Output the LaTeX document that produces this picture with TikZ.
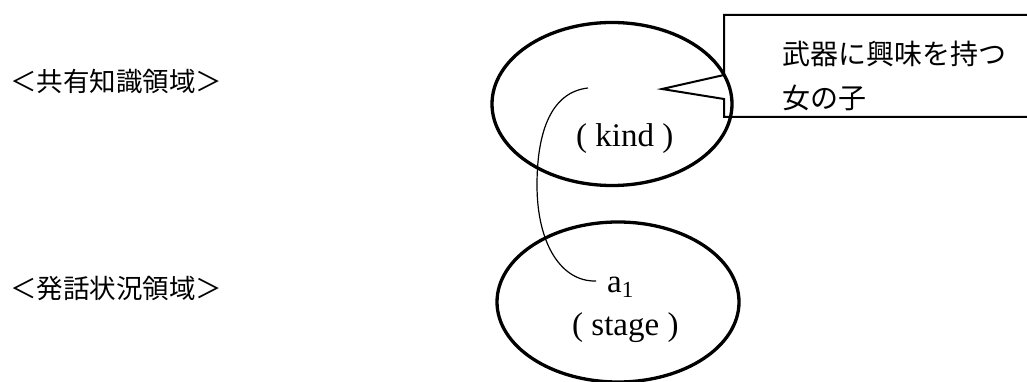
\documentclass[tikz,border=0pt]{standalone}
\usepackage{fontspec}
\newfontfamily\jp{Noto Sans CJK JP}
\newfontfamily\lat{Liberation Serif}
\usetikzlibrary{shapes.geometric}
\begin{document}
\begin{tikzpicture}[x=1pt,y=-1pt,
  region/.style={draw, ellipse, line width=3.3pt, inner sep=0pt},
  label/.style={anchor=base west, inner sep=0pt, font=\jp\fontsize{26.5}{30}\selectfont},
  calltext/.style={anchor=base west, inner sep=0pt, font=\jp\fontsize{28}{32}\selectfont},
  latin/.style={anchor=base west, inner sep=0pt, font=\lat\fontsize{33}{38}\selectfont},
  callout/.style={draw, line width=2pt, line join=miter},
  link/.style={draw, line width=1.2pt}]
\useasboundingbox (0,0) rectangle (1027,382);

% domain labels on the left
\node[label] (shared) at (10,92) {＜共有知識領域＞};
\node[label] (situation) at (10,298) {＜発話状況領域＞};

% speech-bubble box with its pointer
\coordinate (b1) at (1030,15);
\coordinate (b2) at (724,15);
\coordinate (b3) at (724,75);
\coordinate (tip) at (662,89);
\coordinate (b4) at (724,99);
\coordinate (b5) at (724,117);
\coordinate (b6) at (1030,117);
\path[callout] (b1) -- (b2) -- (b3) -- (tip) -- (b4) -- (b5) -- (b6);
\node[calltext] (line1) at (782,65) {武器に興味を持つ};
\node[calltext] (line2) at (782,109) {女の子};

% the two regions
\node[region, minimum width=240pt, minimum height=163pt] (kindreg) at (612,104) {};
\node[region, minimum width=242pt, minimum height=160pt] (stagereg) at (618,302) {};

\node[latin] (kind) at (576,147) {( kind )};
\node[latin] (stage) at (572,335) {( stage )};
\node[latin] (a1) at (607,292) {a\raisebox{-5pt}{\fontsize{23}{26}\selectfont 1}};

% connector from the kind region down to a1
\coordinate (cs) at (588,88);
\coordinate (ce) at (596,281);
\path[link] (cs) .. controls (552,92) and (537,130) .. (537,185)
            .. controls (537,245) and (562,282) .. (ce);
\end{tikzpicture}
\end{document}
